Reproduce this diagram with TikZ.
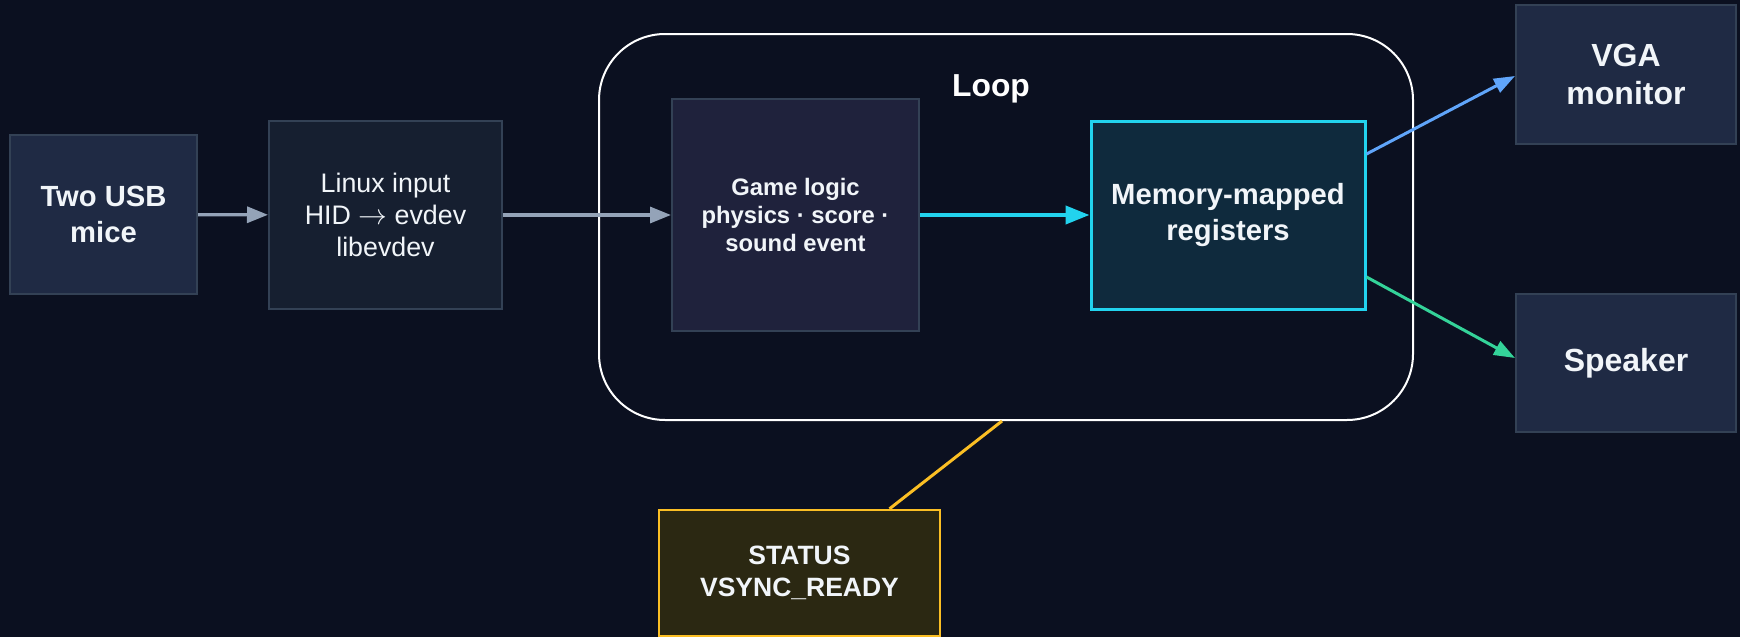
\documentclass[tikz,border=0pt]{standalone}
\usepackage{fontspec}
\setmainfont{Liberation Sans}
\usetikzlibrary{arrows.meta}
\definecolor{bg}{HTML}{0B1020}
\definecolor{boxfill}{HTML}{1F2A44}
\definecolor{linfill}{HTML}{161F30}
\definecolor{gamefill}{HTML}{1F223C}
\definecolor{memfill}{HTML}{0F2A3D}
\definecolor{statfill}{HTML}{2B2812}
\definecolor{bordergray}{HTML}{334155}
\definecolor{txt}{HTML}{F1F5F9}
\definecolor{cyanc}{HTML}{22D3EE}
\definecolor{bluec}{HTML}{60A5FA}
\definecolor{greenc}{HTML}{34D399}
\definecolor{grayc}{HTML}{94A3B8}
\definecolor{goldc}{HTML}{FBBF24}
\begin{document}
\begin{tikzpicture}[x=0.5pt,y=-0.5pt,
  box/.style={draw=bordergray, line width=1pt, fill=boxfill, text=txt, align=center, inner sep=0pt},
  graya/.style={draw=grayc, line width=1.6pt, -{Triangle[length=10.5pt,width=8pt]}},
  cyana/.style={draw=cyanc, line width=2pt, -{Triangle[length=12pt,width=9pt]}},
  colora/.style={line width=1.5pt, -{Triangle[length=10.5pt,width=7.5pt]}}
]
\useasboundingbox[fill=bg] (0,0) rectangle (1740,637);
% loop container
\node[draw=white, line width=1pt, rounded corners=33pt, minimum width=407pt, minimum height=193pt, inner sep=0pt] (loop) at (1006,227) {};
\node[text=white, font=\bfseries\fontsize{15.9}{19}\selectfont] (looplbl) at (991,89) {Loop};
% boxes
\node[box, minimum width=93.5pt, minimum height=79.5pt, font=\bfseries\fontsize{14.6}{17.6}\selectfont] (usb) at (103.5,214.5) {Two USB\\mice};
\node[box, fill=linfill, minimum width=116.5pt, minimum height=94pt, font=\fontsize{13.4}{15.9}\selectfont] (linux) at (385.5,215) {Linux input\\HID $\rightarrow$ evdev\\libevdev};
\node[box, fill=gamefill, minimum width=123.5pt, minimum height=116pt, font=\bfseries\fontsize{11.9}{14.2}\selectfont] (game) at (795.5,215) {Game logic\\physics · score ·\\sound event};
\node[box, fill=memfill, draw=cyanc, line width=1.5pt, minimum width=137pt, minimum height=94pt, font=\bfseries\fontsize{14.6}{17.8}\selectfont] (mem) at (1228,215) {Memory-mapped\\registers};
\node[box, minimum width=110pt, minimum height=69.5pt, font=\bfseries\fontsize{16}{19.2}\selectfont] (vga) at (1626,74.5) {VGA\\monitor};
\node[box, minimum width=110pt, minimum height=69pt, font=\bfseries\fontsize{16}{19.2}\selectfont] (spk) at (1626,363) {Speaker};
\node[box, fill=statfill, draw=goldc, line width=1.2pt, minimum width=140.5pt, minimum height=63pt, font=\bfseries\fontsize{13.25}{15.9}\selectfont] (stat) at (799.5,573) {STATUS\\VSYNC\_READY};
% connectors
\draw[graya] (usb) -- (linux);
\draw[graya] (linux) -- (game);
\draw[cyana] (game) -- (mem);
\draw[colora, draw=bluec, bluec] ([yshift=30.5pt]mem.east) -- ([yshift=-0.75pt]vga.west);
\draw[colora, draw=greenc, greenc] ([yshift=-31pt]mem.east) -- ([yshift=2.5pt]spk.west);
\draw[draw=goldc, line width=1.5pt] ([xshift=-2pt]loop.south) -- ([xshift=45pt]stat.north);
\end{tikzpicture}
\end{document}
